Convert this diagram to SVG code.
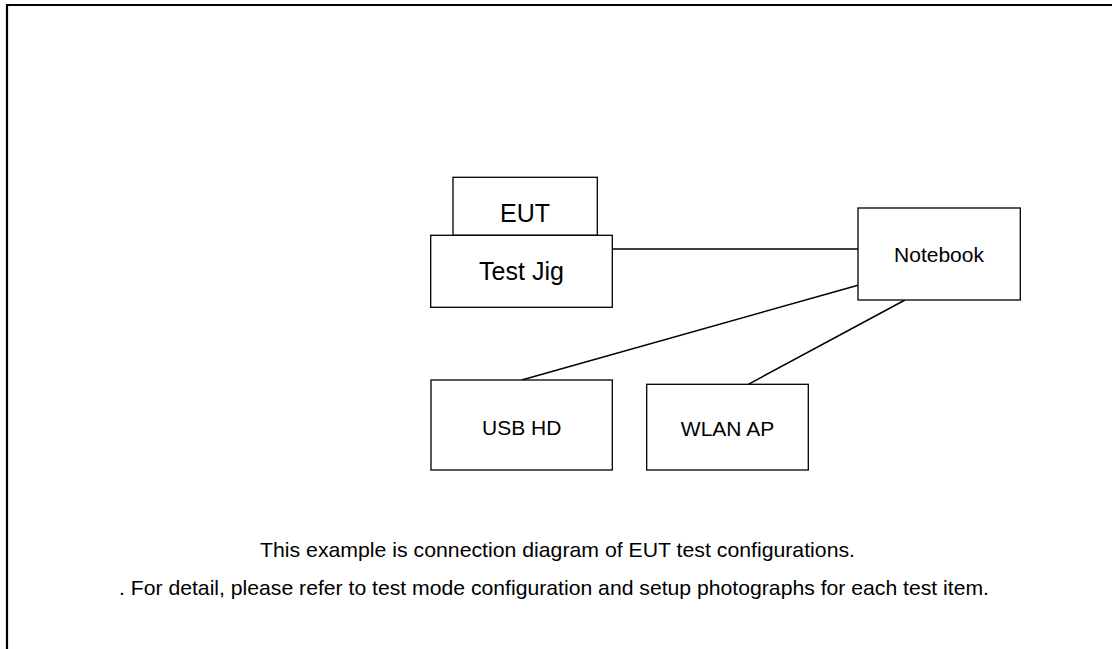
<svg xmlns="http://www.w3.org/2000/svg" width="1112" height="649" viewBox="0 0 1112 649">
<style>
.box{fill:#fff;stroke:#000;stroke-width:1.3}
.lbl{font-family:"Liberation Sans",Arial,sans-serif;fill:#000;text-anchor:middle}
.conn line{stroke:#000;stroke-width:1.5}
.note{font-family:"Liberation Sans",Arial,sans-serif;font-size:21px;fill:#000}
</style>
<rect width="1112" height="649" fill="#fff"/>
<path d="M7,649 V5 H1112" fill="none" stroke="#000" stroke-width="2.2"/>
<g id="connectors" class="conn">
<line x1="612.3" y1="249" x2="858" y2="249"/>
<line x1="858" y1="285.3" x2="521.7" y2="380"/>
<line x1="905" y1="300" x2="748.3" y2="384.3"/>
</g>
<g id="eut">
<rect class="box" x="453" y="177.3" width="144.3" height="58"/>
<text class="lbl" x="525" y="222" font-size="25">EUT</text>
</g>
<g id="testjig">
<rect class="box" x="430.7" y="235.3" width="181.6" height="72"/>
<text class="lbl" x="521.5" y="280" font-size="25">Test Jig</text>
</g>
<g id="notebook">
<rect class="box" x="858" y="208" width="162.3" height="92"/>
<text class="lbl" x="939" y="262.3" font-size="21">Notebook</text>
</g>
<g id="usbhd">
<rect class="box" x="431" y="380" width="181.3" height="90"/>
<text class="lbl" x="521.7" y="435" font-size="21">USB HD</text>
</g>
<g id="wlanap">
<rect class="box" x="646.7" y="384.3" width="161.6" height="85.7"/>
<text class="lbl" x="727.5" y="436" font-size="21">WLAN AP</text>
</g>
<text class="note" x="260" y="556.7" textLength="595" lengthAdjust="spacingAndGlyphs">This example is connection diagram of EUT test configurations.</text>
<text class="note" x="119" y="594.5" textLength="870" lengthAdjust="spacingAndGlyphs">. For detail, please refer to test mode configuration and setup photographs for each test item.</text>
</svg>
